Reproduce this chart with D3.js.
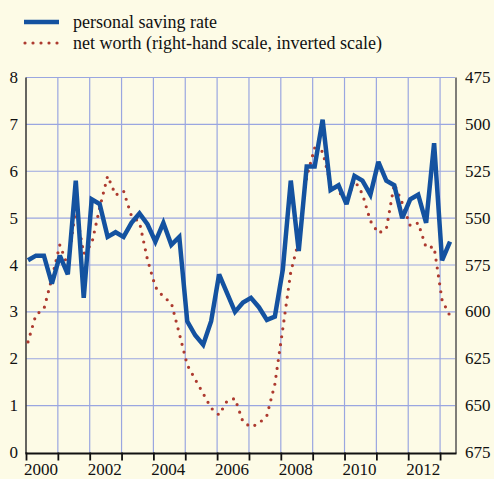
<!DOCTYPE html>
<html><head><meta charset="utf-8">
<script src="https://cdn.jsdelivr.net/npm/d3@7"></script>
<style>html,body{margin:0;padding:0;background:#fdfbe6;}svg{display:block;}</style>
</head><body>
<svg id="c" width="494" height="479"></svg>
<script>
// Quarterly data, 2000Q1 .. 2013Q2
const startYear = 2000;
const savingRate = [4.1,4.2,4.2,3.6,4.2,3.8,5.8,3.3,5.4,5.3,4.6,4.7,4.6,4.9,5.1,4.87,4.5,4.9,4.43,4.6,
  2.8,2.5,2.3,2.8,3.8,3.4,3.0,3.2,3.3,3.1,2.83,2.9,3.9,5.8,4.3,6.1,6.1,7.1,5.6,5.7,
  5.3,5.9,5.8,5.5,6.2,5.8,5.7,5.0,5.4,5.5,4.9,6.6,4.1,4.5];
const netWorth = [616,601.5,598.5,582,564.3,575.5,544.7,569,563.7,544.6,527.5,537.7,535.5,548.9,552.1,572,
  586.7,592,595.2,611.5,628.3,636,643.5,651.3,655,647.5,646.2,658.7,661.4,659.5,655.3,638.6,
  609,578.7,562.2,528,512.6,514.5,531.8,535.5,541.7,529.7,537.1,551.5,558,555.8,531.8,542,
  554,552.6,565.7,565.4,593.7,602.2];
const leftTicks = [0,1,2,3,4,5,6,7,8];
const rightTicks = [475,500,525,550,575,600,625,650,675];
const yearLabels = [2000,2002,2004,2006,2008,2010,2012];
const yearGrid = d3.range(2001, 2014);
const legendLabels = ["personal saving rate","net worth (right-hand scale, inverted scale)"];

const BLUE = "#1452a0", RED = "#ad3a2f", GRID = "#9aa6e0", FONT = "'Liberation Serif','Times New Roman',serif";
const svg = d3.select("#c");
svg.append("rect").attr("width",494).attr("height",479).attr("fill","#fdfbe6");

const x = d3.scaleLinear().domain([2000, 2013.5]).range([26, 456]);
const yL = d3.scaleLinear().domain([0, 8]).range([452.5, 77.5]);
const yR = d3.scaleLinear().domain([475, 675]).range([77.5, 452.5]);
const tOf = i => startYear + Math.floor(i/4) + ((i%4) + 0.25)/4;

// gridlines
svg.append("g").selectAll("line").data(leftTicks.filter(d=>d>0)).join("line")
  .attr("x1", x(2000)).attr("x2", x(2013.5)-1).attr("y1", d=>yL(d)).attr("y2", d=>yL(d))
  .attr("stroke", GRID).attr("stroke-width", 1.2);
svg.append("g").selectAll("line").data(yearGrid).join("line")
  .attr("x1", d=>x(d)).attr("x2", d=>x(d)).attr("y1", yL(8)).attr("y2", yL(0))
  .attr("stroke", GRID).attr("stroke-width", 1.2);

// axis lines
svg.append("line").attr("x1", x(2000)).attr("x2", x(2000)).attr("y1", yL(8)).attr("y2", yL(0)+1)
  .attr("stroke","#333").attr("stroke-width",1.5);
svg.append("line").attr("x1", x(2013.5)).attr("x2", x(2013.5)).attr("y1", yL(8)).attr("y2", yL(0)+1)
  .attr("stroke","#555").attr("stroke-width",1.5);
svg.append("line").attr("x1", x(2000)-0.5).attr("x2", x(2013.5)+0.5).attr("y1", yL(0)+1).attr("y2", yL(0)+1)
  .attr("stroke","#111").attr("stroke-width",2);
svg.append("g").selectAll("line").data([2000].concat(yearGrid)).join("line")
  .attr("x1", d=>x(d)+0.5).attr("x2", d=>x(d)+0.5).attr("y1", yL(0)).attr("y2", yL(0)+8)
  .attr("stroke","#111").attr("stroke-width",1.8);

// tick labels
svg.append("g").selectAll("text").data(leftTicks).join("text")
  .attr("x", 18).attr("y", d=>yL(d)).attr("dy","0.33em").attr("text-anchor","end")
  .attr("font-family",FONT).attr("font-size",17).attr("fill","#111").text(d=>d);
svg.append("g").selectAll("text").data(rightTicks).join("text")
  .attr("x", 465).attr("y", d=>yR(d)).attr("dy","0.33em").attr("text-anchor","start")
  .attr("font-family",FONT).attr("font-size",17).attr("fill","#111").text(d=>d);
svg.append("g").selectAll("text").data(yearLabels).join("text")
  .attr("x", d=>x(d+0.5)-1).attr("y", 475).attr("text-anchor","middle")
  .attr("font-family",FONT).attr("font-size",17).attr("fill","#111").text(d=>d);

// series
const lineL = d3.line().x((d,i)=>x(tOf(i))).y(d=>yL(d));
const lineR = d3.line().x((d,i)=>x(tOf(i))).y(d=>yR(d));
svg.append("path").attr("d", lineR(netWorth)).attr("fill","none").attr("stroke",RED)
  .attr("stroke-width",3.2).attr("stroke-linecap","round").attr("stroke-dasharray","0 8");
svg.append("path").attr("d", lineL(savingRate)).attr("fill","none").attr("stroke",BLUE)
  .attr("stroke-width",4.5).attr("stroke-linejoin","miter").attr("stroke-miterlimit",3);

// legend
svg.append("line").attr("x1",24).attr("x2",59).attr("y1",22).attr("y2",22)
  .attr("stroke",BLUE).attr("stroke-width",4.5);
svg.append("line").attr("x1",25).attr("x2",57.5).attr("y1",43).attr("y2",43)
  .attr("stroke",RED).attr("stroke-width",3.2).attr("stroke-linecap","round").attr("stroke-dasharray","0 8");
svg.append("g").selectAll("text").data(legendLabels).join("text")
  .attr("x",73).attr("y",(d,i)=>28+i*20.5).attr("font-family",FONT).attr("font-size",18)
  .attr("fill","#111").text(d=>d);
</script>
</body></html>
